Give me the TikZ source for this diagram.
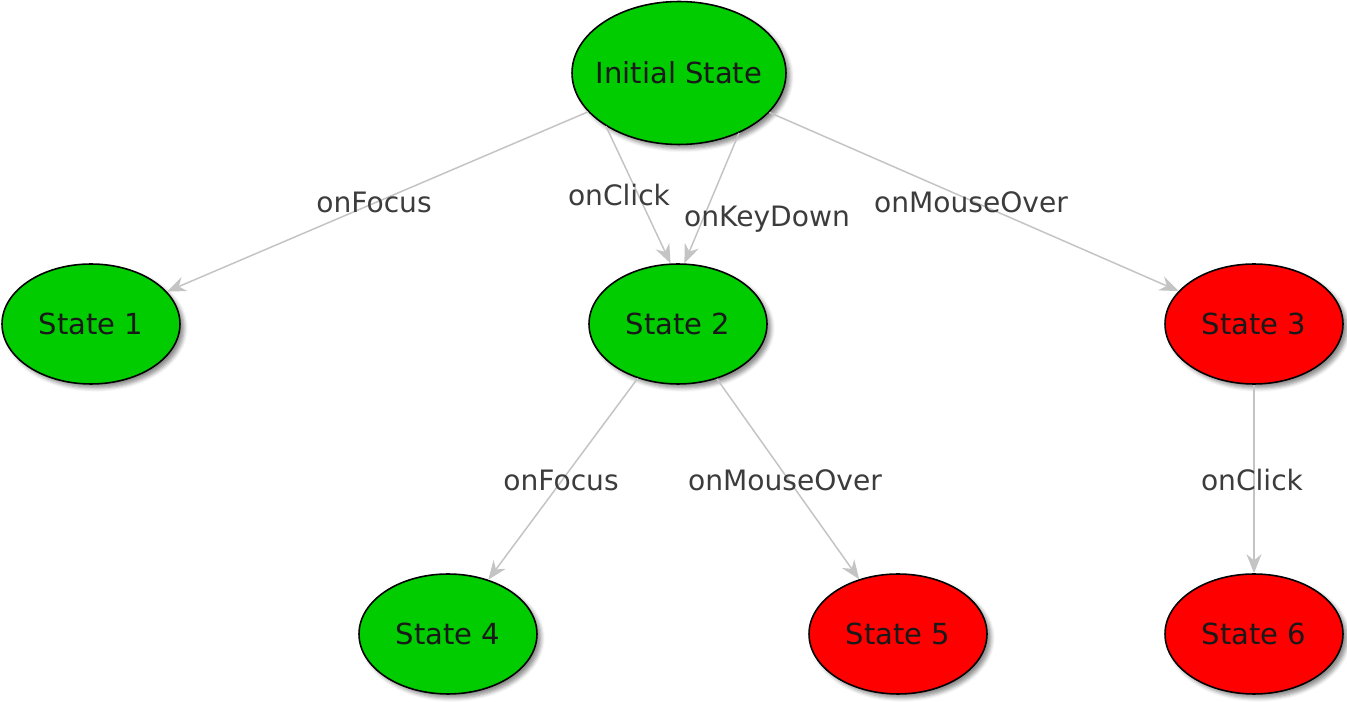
\documentclass[tikz,border=0pt]{standalone}
\usepackage{fontspec}
\setmainfont{DejaVu Sans}
\usetikzlibrary{arrows.meta, positioning, shapes.geometric, shadows.blur}
\definecolor{stgreen}{HTML}{00CC00}
\definecolor{stred}{HTML}{FF0000}
\definecolor{edgegray}{HTML}{C4C4C4}
\definecolor{labgray}{HTML}{3C3C3C}

\begin{document}
\begin{tikzpicture}[
    x=0.02cm, y=-0.02cm,
    st/.style={ellipse, draw=black, line width=0.9pt, minimum width=3.56cm, minimum height=2.4cm, font=\fontsize{16.5}{19}\selectfont, text=black!90, inner sep=0pt, blur shadow={shadow xshift=0.8mm, shadow yshift=-0.8mm, shadow blur steps=5, shadow opacity=45}},
    ok/.style={st, fill=stgreen},
    bad/.style={st, fill=stred},
    arr/.style={-{Stealth[length=3.8mm, width=3mm]}, draw=edgegray, line width=0.85pt},
    lab/.style={font=\fontsize{16}{19}\selectfont, text=labgray, inner sep=1pt}
]
\useasboundingbox (0,0) rectangle (1347,702);

% states
\node[ok, minimum width=4.28cm, minimum height=2.86cm, inner xsep=-6pt] (init) at (679,73) {Initial State};
\node[ok] (s1) at (91,324) {State 1};
\node[ok] (s2) at (678,324) {State 2};
\node[bad] (s3) at (1254,324) {State 3};
\node[ok] (s4) at (448,634) {State 4};
\node[bad] (s5) at (898,634) {State 5};
\node[bad] (s6) at (1254,634) {State 6};

% transitions
\draw[arr] (init) -- (s1);
\draw[arr] (init.216) -- (s2.97);
\draw[arr] (init.315) -- (s2.84);
\draw[arr] (init) -- (s3);
\draw[arr] (s2) -- (s4);
\draw[arr] (s2) -- (s5);
\draw[arr] (s3) -- (s6);

% labels
\node[lab] (l1) at (374,202) {onFocus};
\node[lab] (l2) at (619,195) {onClick};
\node[lab] (l3) at (767,219) {onKeyDown};
\node[lab] (l4) at (971,202) {onMouseOver};
\node[lab] (l5) at (561,480) {onFocus};
\node[lab] (l6) at (785,480) {onMouseOver};
\node[lab] (l7) at (1252,480) {onClick};
\end{tikzpicture}
\end{document}
